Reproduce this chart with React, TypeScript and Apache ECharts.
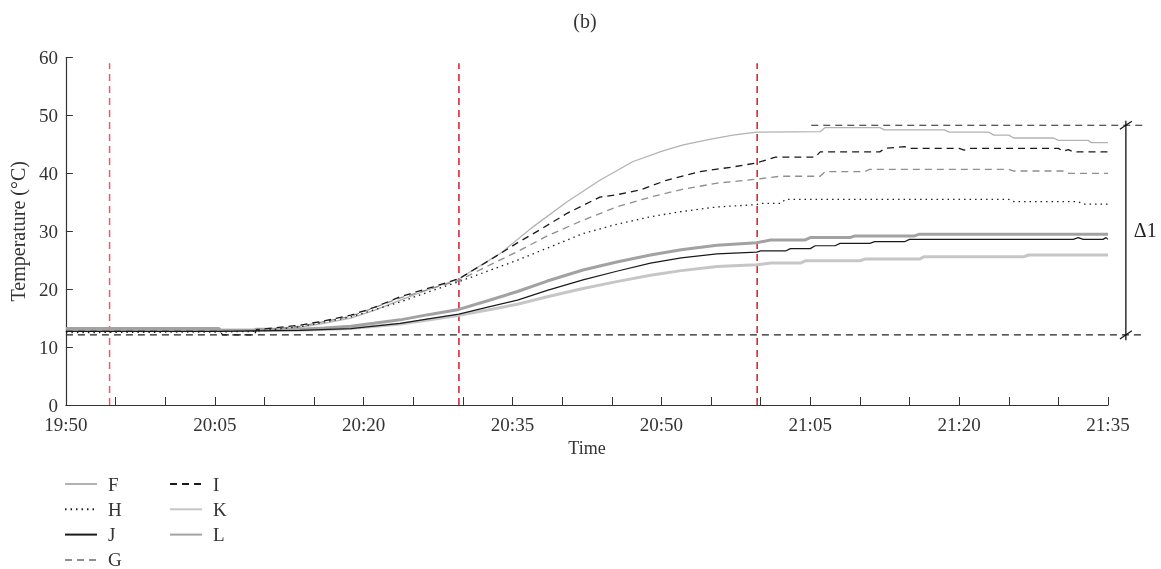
import React, { useEffect, useRef } from "react";
import * as echarts from "echarts";

// minutes after 19:50
const F = [[0,12.8],[15,12.8],[19,12.9],[23.6,13.4],[26,14.1],[28.7,15.0],[31,16.3],[33.7,18.1],[36.5,19.9],[39.6,21.8],[43.8,26.2],[47.1,30.8],[50.5,35.1],[53.8,38.8],[57.1,42.0],[60,43.8],[62.2,44.9],[65,45.9],[67.2,46.6],[69.6,47.1],[76,47.2],[76.5,47.9],[82,47.9],[82.5,47.5],[88.5,47.5],[89,47.1],[93,47.1],[93.5,46.6],[95,46.6],[95.5,46.1],[99.5,46.1],[100,45.7],[103,45.7],[103.3,45.3],[105,45.3]];
const I = [[0,12.7],[15.5,12.7],[15.8,12.1],[19,12.1],[19.2,13.0],[23.6,13.8],[26,14.5],[28.7,15.5],[31,16.8],[33.7,18.7],[37,20.4],[39.6,21.8],[42.5,24.8],[45.4,27.9],[48,30.5],[50.5,33.1],[53.8,35.9],[55.5,36.3],[58,37.2],[60.5,38.8],[63.9,40.3],[67.2,41.1],[69.6,41.8],[71.5,42.8],[75.5,42.8],[76,43.7],[82,43.7],[82.5,44.3],[84.5,44.6],[85,44.3],[90,44.3],[90.5,44.0],[91,44.3],[100,44.3],[100.5,43.8],[101,44.1],[101.5,43.7],[105,43.7]];
const G = [[0,12.7],[15,12.7],[19,12.8],[23.6,13.6],[28.7,15.3],[33.7,18.5],[37,20.2],[39.6,21.5],[42.5,24.0],[45.5,26.5],[48.5,29.2],[52.1,31.9],[55.5,34.2],[58.9,35.9],[62,37.2],[65.6,38.3],[69.6,39.0],[72,39.5],[76,39.5],[76.5,40.3],[80.5,40.3],[81,40.7],[95,40.7],[95.5,40.4],[100.5,40.4],[101,40.0],[105,40.0]];
const H = [[0,12.5],[15,12.6],[19,12.7],[23.6,13.5],[28.7,15.2],[33.7,17.8],[37,19.8],[39.6,21.3],[45.5,25.0],[52.1,29.6],[55.5,31.2],[58.9,32.5],[62,33.4],[65.6,34.2],[69.6,34.6],[70,34.8],[72,34.8],[72.5,35.5],[95,35.5],[95.5,35.1],[102,35.1],[102.5,34.7],[105,34.7]];
const L = [[0,13.2],[15.4,13.2],[15.6,12.9],[19,12.9],[19.2,13.1],[23.6,13.1],[26,13.3],[28.7,13.6],[31,14.1],[33.7,14.7],[36.5,15.6],[39.6,16.5],[42.5,18.0],[45.5,19.6],[48.5,21.4],[52.1,23.3],[55.5,24.7],[58.9,25.9],[62,26.8],[65.6,27.6],[69.6,28.0],[71,28.5],[74.5,28.5],[75,28.9],[79,28.9],[79.5,29.2],[85.5,29.2],[86,29.5],[105,29.5]];
const J = [[0,12.7],[15,12.7],[19,12.8],[23.6,12.9],[28.7,13.2],[33.7,14.1],[37,15.0],[39.6,15.7],[42.5,16.9],[45.5,18.1],[48.5,19.8],[52.1,21.6],[55.5,23.1],[58.9,24.5],[62,25.4],[65.6,26.1],[69.6,26.4],[70,26.6],[72.5,26.6],[73,27.0],[75,27.0],[75.5,27.5],[77.5,27.5],[78,27.9],[81,27.9],[81.5,28.2],[84.5,28.2],[85,28.6],[101.5,28.6],[102,28.9],[102.5,28.6],[104.5,28.6],[104.8,28.9],[105,28.6]];
const K = [[0,13.2],[15.4,13.2],[15.6,12.9],[23.6,12.9],[28.7,13.2],[33.7,14.0],[37,14.8],[39.6,15.5],[42.5,16.4],[45.5,17.4],[48.5,18.7],[52.1,20.1],[55.5,21.3],[58.9,22.4],[62,23.2],[65.6,23.9],[69.6,24.2],[71,24.5],[74,24.5],[74.5,24.9],[80,24.9],[80.5,25.2],[86,25.2],[86.5,25.6],[96.5,25.6],[97,25.9],[105,25.9]];

const legendColumns = [["F", "H", "J", "G"], ["I", "K", "L"]];
const markerTimes = [4.4, 39.6, 69.65];
const markerTop = 59;
const deltaLow = 12.1;
const deltaHigh = 48.3;
const deltaX = 106.8;
const refLowStart = 0;
const refHighStart = 75.1;
const refEnd = 108.7;
const startMinutes = 19 * 60 + 50;

const serif = "'Liberation Serif', 'DejaVu Serif', serif";

function fmt(t: number) {
  const m = startMinutes + t;
  const h = Math.floor(m / 60);
  const mm = Math.round(m % 60);
  return `${h}:${mm < 10 ? "0" : ""}${mm}`;
}

export default function App() {
  const ref = useRef<HTMLDivElement>(null);
  useEffect(() => {
    const chart = echarts.init(ref.current!, null, { renderer: "svg" });
    const line = (name: string, data: number[][], color: string, width: number, type: any, z = 2) => ({
      name, type: "line", data, symbol: "none", showSymbol: false, z,
      lineStyle: { color, width, type }, itemStyle: { color },
      emphasis: { disabled: true },
    });
    const annot = (data: number[][], color: string, width: number, type: any) => ({
      type: "line", data, symbol: "none", showSymbol: false, silent: true, z: 1,
      lineStyle: { color, width, type }, itemStyle: { color }, emphasis: { disabled: true },
    });
    const series: any[] = [
      line("K", K, "#c6c6c6", 3, "solid", 2),
      line("L", L, "#a2a2a2", 3, "solid", 2),
      line("F", F, "#b2b2b2", 1.3, "solid", 3),
      line("G", G, "#8e8e8e", 1.3, [7, 5], 3),
      line("H", H, "#222", 1.3, [1.5, 4], 3),
      line("J", J, "#1a1a1a", 1.2, "solid", 3),
      line("I", I, "#1a1a1a", 1.3, [7, 5], 3),
      annot([[markerTimes[0], 0], [markerTimes[0], markerTop]], "#e35d6a", 1.5, [7, 5]),
      annot([[markerTimes[1], 0], [markerTimes[1], markerTop]], "#c91d2e", 1.5, [7, 5]),
      annot([[markerTimes[2], 0], [markerTimes[2], markerTop]], "#c91d2e", 1.5, [7, 5]),
    ];
    const legendText = { fontFamily: serif, fontSize: 19, color: "#333", padding: [0, 0, 0, 6] };
    const legends: any[] = [];
    legendColumns.forEach((col, ci) => {
      col.forEach((name, ri) => {
        legends.push({
          data: [name], orient: "vertical", padding: 0,
          left: 64 + ci * 105, top: 474.5 + ri * 25.3,
          itemWidth: 32, itemHeight: 12, textStyle: legendText,
          itemStyle: { opacity: 0, borderWidth: 0 },
        });
      });
    });
    chart.setOption({
      animation: false,
      title: { text: "(b)", left: 580, top: 6, textAlign: "center", textStyle: { fontFamily: serif, fontSize: 20, fontWeight: "normal", color: "#333" } },
      grid: { left: 65, right: 53, top: 57.5, bottom: 164 },
      xAxis: {
        type: "value", min: 0, max: 105, interval: 5,
        name: "Time", nameLocation: "middle", nameGap: 33,
        nameTextStyle: { fontFamily: serif, fontSize: 18, color: "#333" },
        axisLine: { lineStyle: { color: "#333", width: 1.2 } },
        axisTick: { inside: true, length: 8, lineStyle: { color: "#333" } },
        splitLine: { show: false },
        axisLabel: { margin: 10, fontFamily: serif, fontSize: 19, color: "#333", formatter: (v: number) => (v % 15 === 0 ? fmt(v) : "") },
      },
      yAxis: {
        type: "value", min: 0, max: 60, interval: 10,
        name: "Temperature (°C)", nameLocation: "middle", nameGap: 37,
        nameTextStyle: { fontFamily: serif, fontSize: 20, color: "#333" },
        axisLine: { show: true, lineStyle: { color: "#333", width: 1.2 } },
        axisTick: { show: true, inside: true, length: 7, lineStyle: { color: "#333" } },
        splitLine: { show: false },
        axisLabel: { margin: 8, fontFamily: serif, fontSize: 19, color: "#333" },
      },
      legend: legends,
      series,
    });

    const p = (x: number, y: number) => chart.convertToPixel({ gridIndex: 0 }, [x, y]) as number[];
    const lo0 = p(refLowStart, deltaLow), lo1 = p(refEnd, deltaLow);
    const hi0 = p(refHighStart, deltaHigh), hi1 = p(refEnd, deltaHigh);
    const vb = p(deltaX, deltaLow - 0.9), vt = p(deltaX, deltaHigh + 0.8);
    const sl = (v: number) => {
      const a = p(deltaX - 0.6, v - 0.7), b = p(deltaX + 0.6, v + 0.7);
      return { type: "line", silent: true, shape: { x1: a[0], y1: a[1], x2: b[0], y2: b[1] }, style: { stroke: "#111", lineWidth: 1.2 } };
    };
    const mid = p(deltaX, (deltaLow + deltaHigh) / 2);
    chart.setOption({
      graphic: [
        { type: "line", silent: true, shape: { x1: lo0[0], y1: lo0[1], x2: lo1[0], y2: lo1[1] }, style: { stroke: "#222", lineWidth: 1.2, lineDash: [7, 5] } },
        { type: "line", silent: true, shape: { x1: hi0[0], y1: hi0[1], x2: hi1[0], y2: hi1[1] }, style: { stroke: "#222", lineWidth: 1.2, lineDash: [7, 5] } },
        { type: "line", silent: true, shape: { x1: vb[0], y1: vb[1], x2: vt[0], y2: vt[1] }, style: { stroke: "#111", lineWidth: 1.3 } },
        sl(deltaLow),
        sl(deltaHigh),
        { type: "text", x: mid[0] + 8, y: mid[1], style: { text: "Δ1", fontFamily: serif, fontSize: 20, fill: "#222", verticalAlign: "middle" } },
      ],
    });
    return () => chart.dispose();
  }, []);
  return <div ref={ref} style={{ position: "fixed", left: 0, top: 0, width: 1161, height: 569 }} />;
}
